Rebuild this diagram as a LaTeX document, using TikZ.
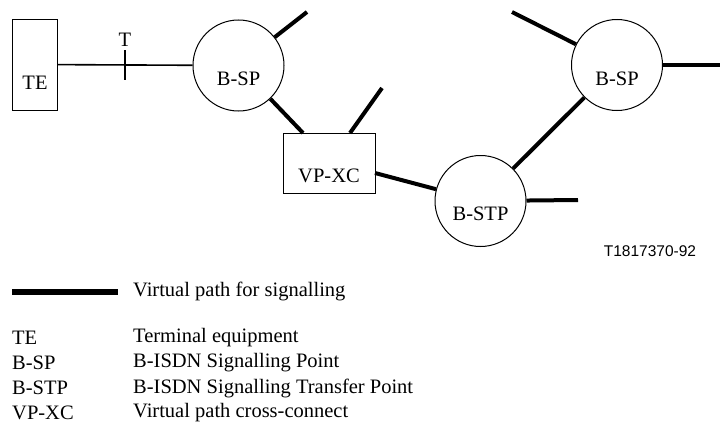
\documentclass[tikz,border=0pt]{standalone}
\usepackage{fontspec}
\setmainfont{Liberation Serif}
\newfontfamily\labelsans{Liberation Sans}
\begin{document}
\begin{tikzpicture}[x=1pt,y=-1pt,
  every node/.style={font=\fontsize{20.5}{24}\selectfont},
  boxnode/.style={draw,line width=1pt,minimum width=#1,inner sep=0pt},
  circnode/.style={draw,circle,line width=1pt,minimum size=91pt,inner sep=0pt},
  thinline/.style={line width=1.6pt},
  vpline/.style={line width=4pt},
  legline/.style={line width=5.5pt},
  txt/.style={inner sep=0pt,anchor=center},
  legtxt/.style={inner sep=0pt,anchor=west}]
\useasboundingbox (0,0) rectangle (720,423);
% nodes
\node[boxnode=45pt,minimum height=91pt] (te) at (34.5,64.5) {};
\node[circnode] (bspa) at (238.5,65.5) {};
\node[boxnode=92pt,minimum height=60pt] (vpxc) at (329,163) {};
\node[circnode] (bstp) at (480.5,201) {};
\node[circnode] (bspb) at (617,65) {};
% texts inside
\node[txt] (tet) at (35,83) {TE};
\node[txt] (bspat) at (238.5,79) {B-SP};
\node[txt] (vpxct) at (329,176) {VP-XC};
\node[txt] (bstpt) at (480.5,214) {B-STP};
\node[txt] (bspbt) at (617,79) {B-SP};
% T reference point
\coordinate (ttop) at (125,50);
\coordinate (tbot) at (125,80);
\node[txt] (tlab) at (125,40) {T};
% stub ends and attach points
\coordinate (s1) at (307,12);
\coordinate (v1) at (303,133);
\coordinate (v2) at (350,133);
\coordinate (s2) at (382,88);
\coordinate (v3) at (375,173);
\coordinate (s3) at (578,200);
\coordinate (s4) at (512,12);
\coordinate (s5) at (720,65);
% connectors
\draw[thinline] (te) -- (bspa);
\draw[thinline] (ttop) -- (tbot);
\draw[vpline] (bspa) -- (s1);
\draw[vpline] (bspa) -- (v1);
\draw[vpline] (v2) -- (s2);
\draw[vpline] (v3) -- (bstp);
\draw[vpline] (bstp) -- (bspb);
\draw[vpline] (bstp) -- (s3);
\draw[vpline] (bspb) -- (s4);
\draw[vpline] (bspb) -- (s5);
% figure id
\node[txt,font=\labelsans\fontsize{15.5}{18}\selectfont] (fid) at (650,251) {T1817370-92};
% legend
\coordinate (la) at (12,292);
\coordinate (lb) at (118,292);
\draw[legline] (la) -- (lb);
\node[legtxt] (l0) at (133,291) {Virtual path for signalling};
\node[legtxt] (k1) at (12,338) {TE};
\node[legtxt] (d1) at (133,338) {Terminal equipment};
\node[legtxt] (k2) at (12,363) {B-SP};
\node[legtxt] (d2) at (133,363) {B-ISDN Signalling Point};
\node[legtxt] (k3) at (12,388) {B-STP};
\node[legtxt] (d3) at (133,388) {B-ISDN Signalling Transfer Point};
\node[legtxt] (k4) at (12,413) {VP-XC};
\node[legtxt] (d4) at (133,413) {Virtual path cross-connect};
\end{tikzpicture}
\end{document}
